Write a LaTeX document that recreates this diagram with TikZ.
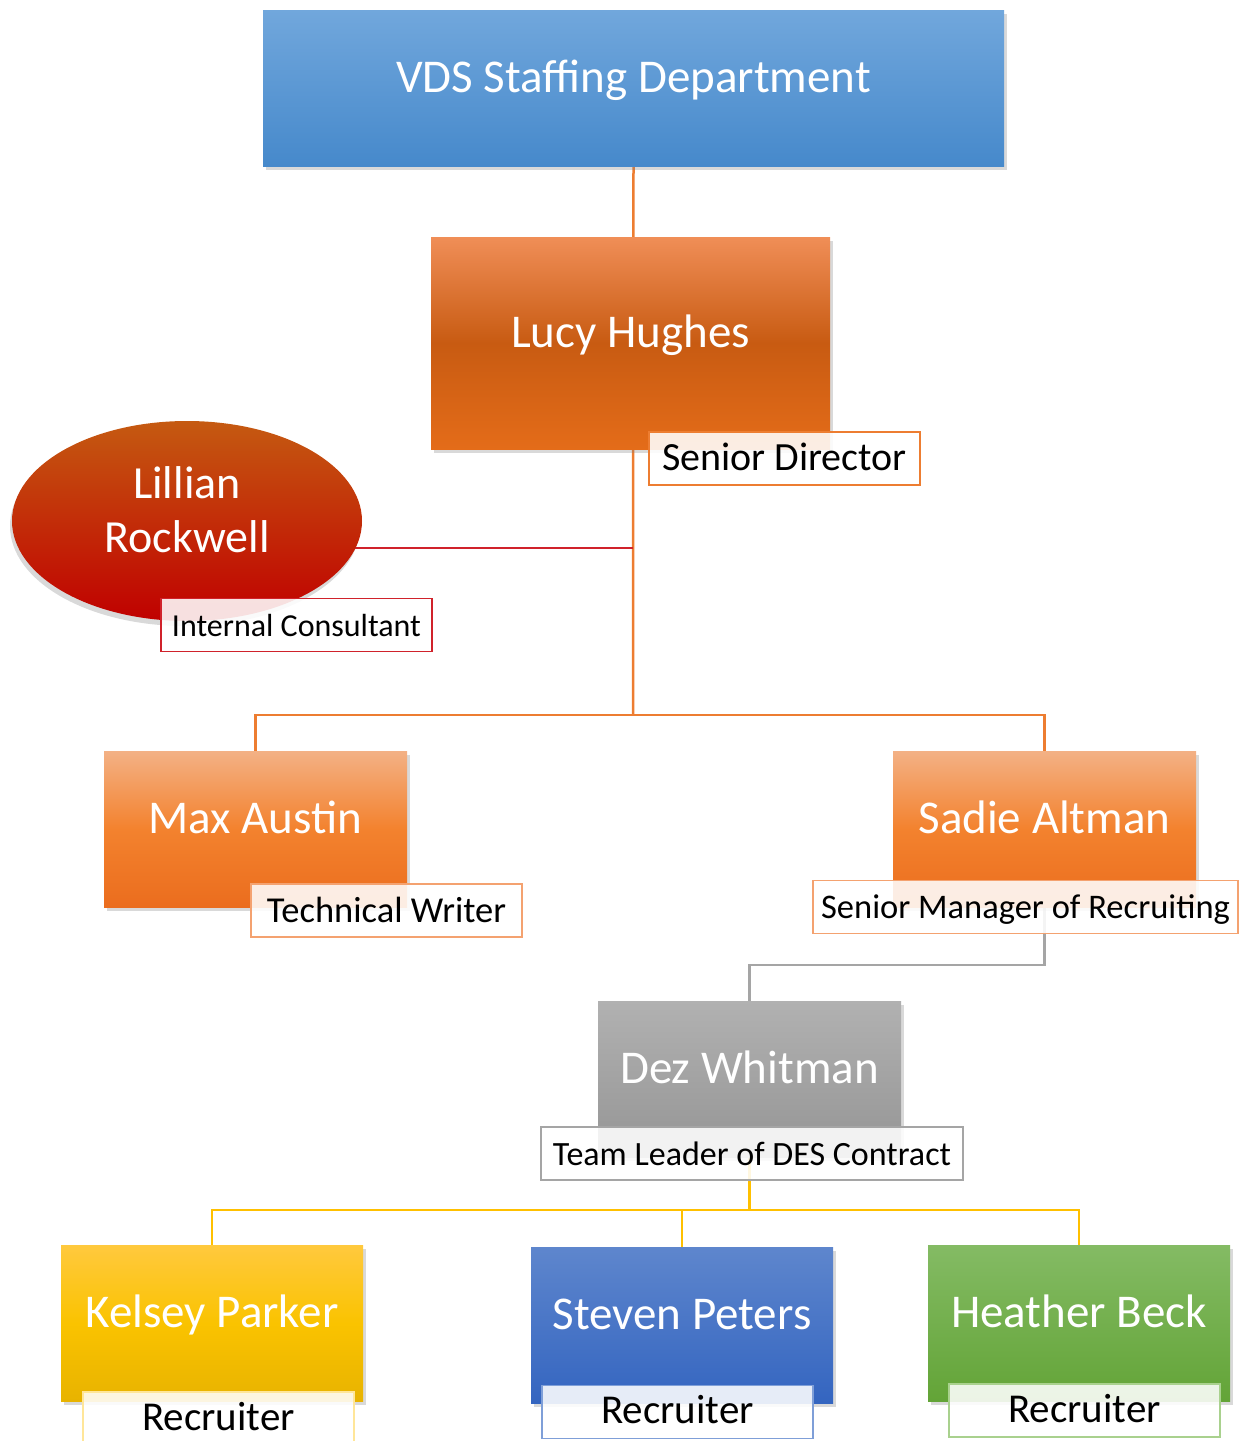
\documentclass[tikz,border=0pt]{standalone}
\usepackage{fontspec}
\setmainfont{Carlito}
\usepackage{xcolor}
\usepackage{tikz}
\usetikzlibrary{shapes,positioning,calc,shadows,backgrounds}

\definecolor{lineorange}{HTML}{ED7D31}
\definecolor{linered}{HTML}{D0222B}
\definecolor{linegray}{HTML}{A5A5A5}
\definecolor{lineyellow}{HTML}{FFC000}
\definecolor{tagorange}{HTML}{F4A270}
\definecolor{tagyellow}{HTML}{FFE699}
\definecolor{tagblue}{HTML}{7F9FD8}
\definecolor{taggreen}{HTML}{A9D18E}

\begin{document}
\begin{tikzpicture}[x=1pt, y=-1pt,
    box/.style={rectangle, inner sep=0pt, minimum width=303pt, minimum height=156pt,
        text=white, font=\fontsize{47}{54}\selectfont, text height=33pt, text depth=25pt,
        drop shadow={shadow xshift=3pt, shadow yshift=-4pt, opacity=0.3}},
    tag/.style={rectangle, draw, line width=1.2pt, fill=white, fill opacity=0.88, text opacity=1,
        inner sep=0pt, minimum width=271pt, minimum height=53pt, text height=23pt, text depth=0pt},
    link/.style={line width=2.5pt}]
    \useasboundingbox (0,0) rectangle (1241,1441);

    % Department
    \node[box, minimum width=741pt, top color={rgb,255:red,113;green,167;blue,220}, bottom color={rgb,255:red,70;green,137;blue,203}] (vds) at (633.5,88) {VDS Staffing Department};

    % Director
    \node[box, minimum width=399pt, minimum height=212pt, top color={rgb,255:red,240;green,142;blue,87}, bottom color={rgb,255:red,228;green,108;blue,25}, middle color={rgb,255:red,200;green,91;blue,18}] (lucy) at (630.5,343) {Lucy Hughes};
    \node[tag, draw=lineorange, font=\fontsize{40}{48}\selectfont] (lucytag) at (784.5,458.5) {Senior Director};

    % Consultant
    \node[ellipse, inner sep=0pt, minimum width=350pt, minimum height=200pt, text=white, align=center,
        font=\fontsize{46}{54}\selectfont, text height=80pt, text depth=18pt,
        top color={rgb,255:red,197;green,90;blue,17}, bottom color={rgb,255:red,192;green,0;blue,0},
        drop shadow={shadow xshift=-2pt, shadow yshift=-5pt, opacity=0.3}] (lillian) at (187,521) {Lillian\\Rockwell};
    \node[tag, draw=linered, font=\fontsize{32}{38}\selectfont] (lilliantag) at (296.5,625) {Internal Consultant};

    % Managers
    \node[box, top color={rgb,255:red,243;green,177;blue,133}, bottom color={rgb,255:red,235;green,109;blue,30}, middle color={rgb,255:red,243;green,130;blue,46}] (max) at (255.5,829) {Max Austin};
    \node[tag, draw=tagorange, font=\fontsize{36.5}{44}\selectfont] (maxtag) at (386.5,910.5) {Technical Writer};

    \node[box, top color={rgb,255:red,243;green,177;blue,133}, bottom color={rgb,255:red,235;green,109;blue,30}, middle color={rgb,255:red,243;green,130;blue,46}] (sadie) at (1044.5,829) {Sadie Altman};
    \node[tag, draw=tagorange, minimum width=425pt, font=\fontsize{34.5}{41}\selectfont] (sadietag) at (1025.5,907) {Senior Manager of Recruiting};

    % Team leader
    \node[box, top color={rgb,255:red,177;green,177;blue,177}, bottom color={rgb,255:red,149;green,149;blue,149}] (dez) at (749.5,1079) {Dez Whitman};
    \node[tag, draw=linegray, minimum width=422pt, font=\fontsize{34}{41}\selectfont] (deztag) at (752,1153.5) {Team Leader of DES Contract};

    % Recruiters
    \node[box, minimum width=302pt, top color={rgb,255:red,255;green,201;blue,62}, bottom color={rgb,255:red,232;green,179;blue,0}, middle color={rgb,255:red,250;green,195;blue,0}] (kelsey) at (212,1323) {Kelsey Parker};
    \node[tag, draw=tagyellow, font=\fontsize{41}{48}\selectfont] (kelseytag) at (218.5,1418.5) {Recruiter};

    \node[box, minimum width=302pt, top color={rgb,255:red,94;green,134;blue,205}, bottom color={rgb,255:red,52;green,101;blue,192}] (steven) at (682,1325) {Steven Peters};
    \node[tag, draw=tagblue, font=\fontsize{41}{48}\selectfont] (steventag) at (677.5,1412) {Recruiter};

    \node[box, minimum width=302pt, top color={rgb,255:red,132;green,187;blue,100}, bottom color={rgb,255:red,99;green,164;blue,55}] (heather) at (1079,1323) {Heather Beck};
    \node[tag, draw=taggreen, font=\fontsize{41}{48}\selectfont] (heathertag) at (1084.5,1410.5) {Recruiter};

    % Connectors
    \begin{scope}[on background layer]
        \coordinate (hub) at (633,715);
        \coordinate (tap) at (633,548);
        \draw[link, draw=lineorange] (vds.south) -- (hub);
        \draw[link, draw=lineorange] (max.north) |- (hub) -| (sadie.north);
        \draw[line width=1.5pt, draw=linered] (tap) -- (tap -| lillian.center);
        \draw[link, draw=linegray] (sadie.south) -- ++(0,58) -| (dez.north);
        \draw[link, draw=lineyellow] (dez.south) -- ++(0,53) coordinate (fork);
        \draw[link, draw=lineyellow] (kelsey.north) |- (fork) -| (heather.north);
        \draw[link, draw=lineyellow] (steven.north) |- (fork);
    \end{scope}
\end{tikzpicture}
\end{document}
